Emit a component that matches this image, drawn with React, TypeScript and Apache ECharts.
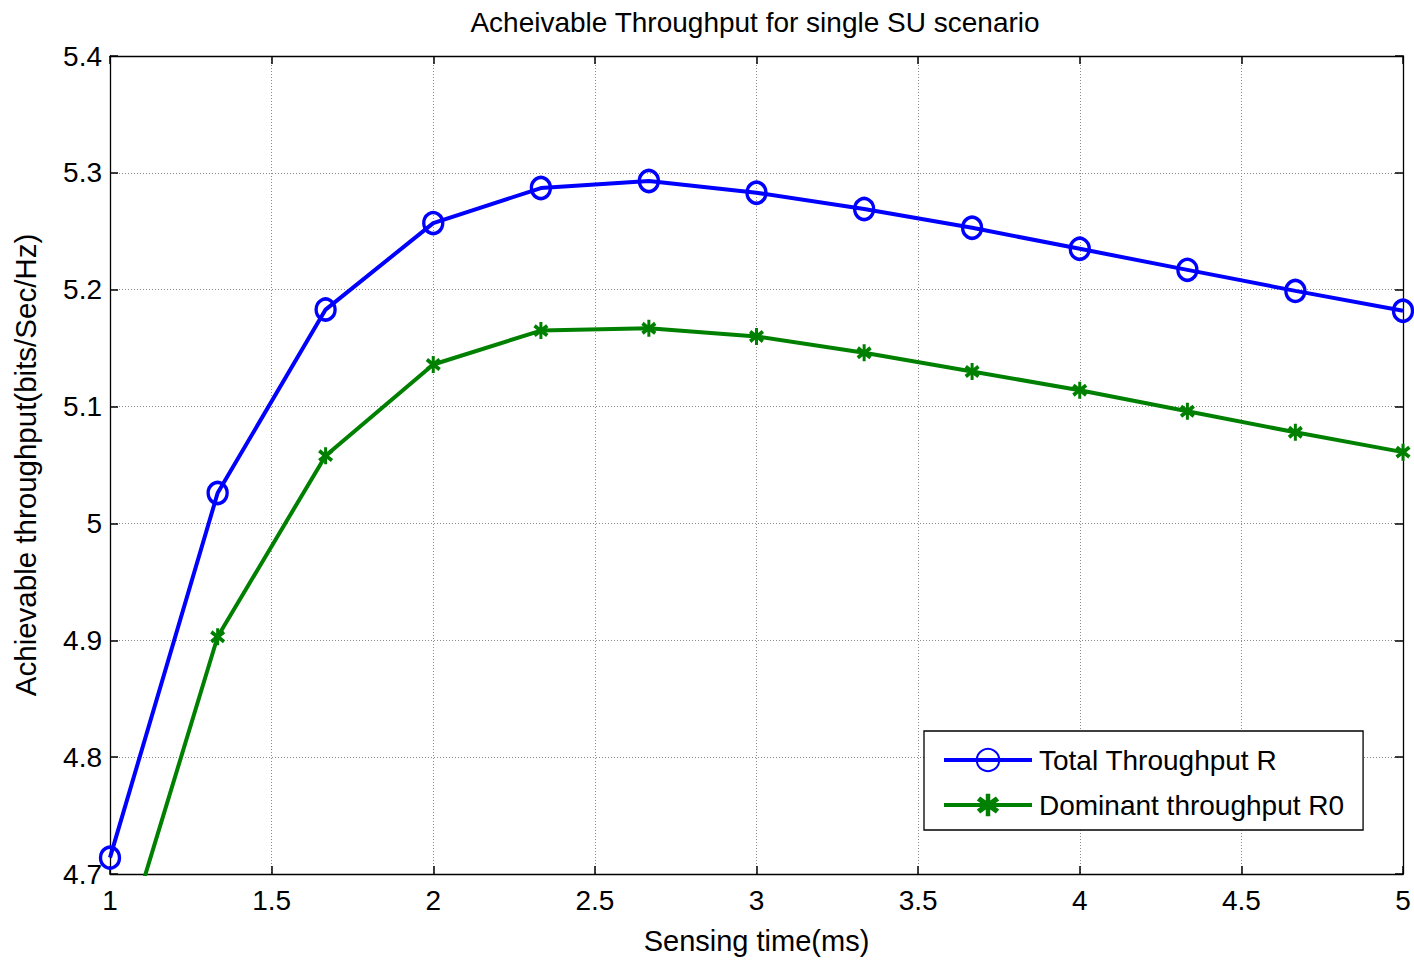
import React, { useEffect, useRef } from "react";
import * as echarts from "echarts";

// Sensing time (ms)
const sensingTime = [1, 1.333, 1.667, 2, 2.333, 2.667, 3, 3.333, 3.667, 4, 4.333, 4.667, 5];
// Total throughput R (bits/Sec/Hz)
const totalThroughput = [4.714, 5.026, 5.183, 5.257, 5.287, 5.293, 5.283, 5.269, 5.253, 5.235, 5.217, 5.199, 5.182];
// Dominant throughput R0 (bits/Sec/Hz)
const dominantThroughput = [4.6, 4.903, 5.058, 5.136, 5.165, 5.167, 5.160, 5.146, 5.130, 5.114, 5.096, 5.078, 5.061];

const xTicks = [1, 1.5, 2, 2.5, 3, 3.5, 4, 4.5, 5];
const yTicks = [4.7, 4.8, 4.9, 5, 5.1, 5.2, 5.3, 5.4];

const FONT = "'Liberation Sans', Arial, sans-serif";

// chunky asterisk marker
const STAR_PATH =
  "path://M4,0 L6,0 L6,3 L8.5,1.2 L10,3 L7.2,5 L10,7 L8.5,8.8 L6,7 L6,10 L4,10 L4,7 L1.5,8.8 L0,7 L2.8,5 L0,3 L1.5,1.2 L4,3 Z";

const pairs = (ys: number[]) => sensingTime.map((x, i) => [x, ys[i]]);

export default function App() {
  const ref = useRef<HTMLDivElement>(null);

  useEffect(() => {
    if (!ref.current) return;
    const chart = echarts.init(ref.current, null, { renderer: "svg" });

    const gridLine = { show: true, lineStyle: { color: "#8a8a8a", type: [1, 2] as any, width: 1 } };
    const axisLine = { show: true, onZero: false, lineStyle: { color: "#000", width: 1.3 } };
    const tick = { show: true, inside: true, length: 8, lineStyle: { color: "#000", width: 1.5 } };
    const label = { color: "#000", fontSize: 28, fontFamily: FONT };

    chart.setOption({
      animation: false,
      backgroundColor: "#fff",
      title: {
        text: "Acheivable Throughput for single SU scenario",
        left: 750,
        top: 3,
        textAlign: "center",
        textStyle: { color: "#000", fontSize: 28, fontWeight: "normal", fontFamily: FONT },
      },
      grid: { left: 110, right: 11, top: 56, bottom: 87, containLabel: false },
      legend: {
        left: 924,
        top: 731,
        orient: "vertical",
        backgroundColor: "#fff",
        borderColor: "#000",
        borderWidth: 1.3,
        borderRadius: 0,
        padding: [15, 19, 11, 18],
        itemWidth: 88,
        itemHeight: 28,
        itemGap: 17,
        lineStyle: { width: 4 },
        textStyle: { color: "#000", fontSize: 28, fontFamily: FONT, padding: [0, 0, 0, 2] },
        data: ["Total Throughput R", "Dominant throughput R0"],
      },
      xAxis: [
        {
          type: "value",
          min: 1,
          max: 5,
          interval: 0.5,
          name: "Sensing time(ms)",
          nameLocation: "middle",
          nameGap: 52,
          nameTextStyle: { color: "#000", fontSize: 29, fontFamily: FONT },
          axisLine,
          axisTick: tick,
          axisLabel: { ...label, margin: 12, customValues: xTicks, showMinLabel: true, showMaxLabel: true },
          splitLine: gridLine,
        },
        {
          type: "value",
          position: "top",
          min: 1,
          max: 5,
          interval: 0.5,
          axisLine,
          axisTick: tick,
          axisLabel: { show: false },
          splitLine: { show: false },
        },
      ],
      yAxis: [
        {
          type: "value",
          min: 4.7,
          max: 5.4,
          interval: 0.1,
          name: "Achievable throughput(bits/Sec/Hz)",
          nameLocation: "middle",
          nameGap: 70,
          nameTextStyle: { color: "#000", fontSize: 29.5, fontFamily: FONT },
          axisLine,
          axisTick: tick,
          axisLabel: {
            ...label,
            margin: 8,
            formatter: (v: number) => {
              const hit = yTicks.find((t) => Math.abs(t - v) < 1e-6);
              return hit === undefined ? "" : String(hit);
            },
          },
          splitLine: gridLine,
        },
        {
          type: "value",
          position: "right",
          min: 4.7,
          max: 5.4,
          interval: 0.1,
          axisLine,
          axisTick: tick,
          axisLabel: { show: false },
          splitLine: { show: false },
        },
      ],
      series: [
        {
          name: "Total Throughput R",
          type: "line",
          data: pairs(totalThroughput),
          clip: true,
          symbol: "circle",
          symbolSize: [19, 21],
          lineStyle: { color: "#0000ff", width: 4 },
          itemStyle: { color: "rgba(255,255,255,0)", borderColor: "#0000ff", borderWidth: 3.5 },
          z: 3,
        },
        {
          name: "Dominant throughput R0",
          type: "line",
          data: pairs(dominantThroughput),
          clip: true,
          symbol: STAR_PATH,
          symbolSize: [15, 17],
          lineStyle: { color: "#008000", width: 4 },
          itemStyle: { color: "#008000", borderWidth: 0 },
          z: 2,
        },
      ],
    });

    return () => chart.dispose();
  }, []);

  return (
    <div
      ref={ref}
      style={{ position: "fixed", left: 0, top: 0, width: 1414, height: 961, background: "#fff" }}
    />
  );
}
